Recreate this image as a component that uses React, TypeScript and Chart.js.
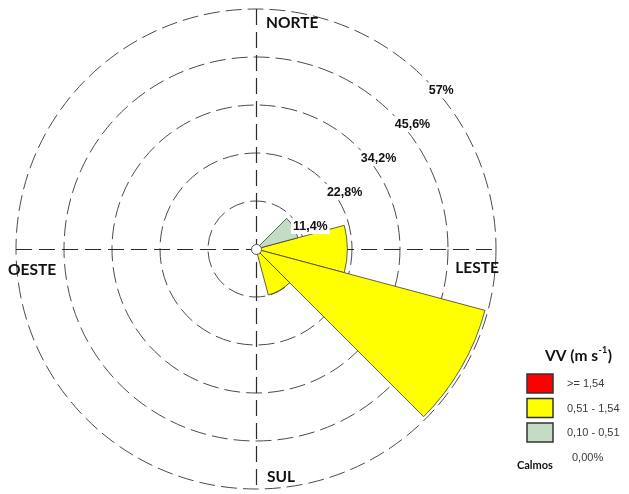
import React, { useEffect, useRef } from 'react';
import { Chart, registerables } from 'chart.js';

Chart.register(...registerables);

// Twelve 30° direction sectors, clockwise from north
const sectorLabels = ['N', 'NNE', 'ENE', 'E', 'ESE', 'SSE', 'S', 'SSW', 'WSW', 'W', 'WNW', 'NNW'];

// Frequency (%) per sector for each wind-speed class
const strongWind = [0, 0, 0, 0, 0, 0, 0, 0, 0, 0, 0, 0]; // >= 1,54
const moderateWind = [0, 0, 0, 21.7, 56.3, 11.3, 0, 0, 0, 0, 0, 0]; // 0,51 - 1,54
const lightWind = [0, 0, 10.3, 0, 0, 0, 0, 0, 0, 0, 0, 0]; // 0,10 - 0,51

const ringValues = [11.4, 22.8, 34.2, 45.6, 57];
const ringLabels = ['11,4%', '22,8%', '34,2%', '45,6%', '57%'];

const classLabels = ['>= 1,54', '0,51 - 1,54', '0,10 - 0,51'];
const classColors = ['#ff0000', '#ffff00', '#c3dcc3'];
const calmPercent = 0;

const directionNames = ['NORTE', 'LESTE', 'SUL', 'OESTE'];

const HEAD_FONT = '"Lato", "Open Sans", sans-serif';
const TEXT_FONT = '"Liberation Sans", Arial, sans-serif';

const rosePlugin = {
  id: 'roseDecor',
  beforeDatasetsDraw(chart: any) {
    const scale = chart.scales.r;
    const ctx: CanvasRenderingContext2D = chart.ctx;
    const R = scale.drawingArea;
    const cx = scale.xCenter;
    const cy = scale.yCenter;
    ctx.save();
    ctx.strokeStyle = '#2a2a2a';
    ctx.lineWidth = 1.2;
    ctx.setLineDash([16, 7]);
    ctx.beginPath();
    ctx.moveTo(cx + 0.5, cy - R);
    ctx.lineTo(cx + 0.5, cy + R);
    ctx.moveTo(cx - R, cy + 0.5);
    ctx.lineTo(cx + R, cy + 0.5);
    ctx.stroke();
    ctx.restore();
  },
  afterDatasetsDraw(chart: any) {
    const scale = chart.scales.r;
    const ctx: CanvasRenderingContext2D = chart.ctx;
    const R = scale.drawingArea;
    const cx = scale.xCenter;
    const cy = scale.yCenter;
    ctx.save();

    // centre marker
    ctx.beginPath();
    ctx.arc(cx + 0.5, cy + 0.5, 5, 0, Math.PI * 2);
    ctx.fillStyle = '#ffffff';
    ctx.fill();
    ctx.lineWidth = 1;
    ctx.strokeStyle = '#555555';
    ctx.stroke();

    // ring percentage labels, along the NE diagonal
    ctx.font = `bold 12.5px ${TEXT_FONT}`;
    ctx.textBaseline = 'middle';
    ctx.textAlign = 'left';
    ringValues.forEach((v, i) => {
      const d = scale.getDistanceFromCenterForValue(v);
      const x = cx + d * Math.SQRT1_2 + 3;
      const y = cy - d * Math.SQRT1_2 + 11;
      const w = ctx.measureText(ringLabels[i]).width;
      ctx.fillStyle = '#ffffff';
      ctx.fillRect(x - 2, y - 8, w + 4, 16);
      ctx.fillStyle = '#111111';
      ctx.fillText(ringLabels[i], x, y);
    });

    // compass names
    ctx.font = `bold 15.5px ${HEAD_FONT}`;
    ctx.fillStyle = '#111111';
    ctx.textAlign = 'left';
    ctx.fillText(directionNames[0], cx + 10, cy - R + 14);
    ctx.textAlign = 'right';
    ctx.fillText(directionNames[1], cx + R + 3, cy + 19);
    ctx.textAlign = 'left';
    ctx.fillText(directionNames[2], cx + 11, cy + R - 12);
    ctx.fillText(directionNames[3], cx - R - 8, cy + 21);

    // legend
    const lx = 527;
    ctx.font = `bold 15.5px ${HEAD_FONT}`;
    ctx.textAlign = 'left';
    const head = 'VV (m s';
    ctx.fillText(head, 545, 356);
    let hx = 545 + ctx.measureText(head).width;
    ctx.font = `bold 9px ${HEAD_FONT}`;
    ctx.fillText('-1', hx + 0.5, 350);
    hx += ctx.measureText('-1').width + 1;
    ctx.font = `bold 15.5px ${HEAD_FONT}`;
    ctx.fillText(')', hx, 356);

    classLabels.forEach((label, i) => {
      const by = 374 + i * 24.5;
      ctx.fillStyle = classColors[i];
      ctx.fillRect(lx, by, 26, 19);
      ctx.lineWidth = 1.5;
      ctx.strokeStyle = '#333333';
      ctx.strokeRect(lx, by, 26, 19);
      ctx.font = `11px ${TEXT_FONT}`;
      ctx.fillStyle = '#3a3a3a';
      ctx.fillText(label, 567, by + 10);
    });

    ctx.font = `bold 11px ${HEAD_FONT}`;
    ctx.fillStyle = '#111111';
    ctx.fillText('Calmos', 517, 465);
    ctx.font = `11px ${TEXT_FONT}`;
    ctx.fillStyle = '#3a3a3a';
    ctx.fillText(`${calmPercent.toFixed(2).replace('.', ',')}%`, 572, 458);

    ctx.restore();
  },
};

export default function App() {
  const canvasRef = useRef<HTMLCanvasElement | null>(null);

  useEffect(() => {
    if (!canvasRef.current) return;
    const arcStyle = (color: string) => ({
      backgroundColor: color,
      borderColor: '#3a3a3a',
      borderWidth: 0.8,
    });
    const chart = new Chart(canvasRef.current, {
      type: 'polarArea',
      data: {
        labels: sectorLabels,
        datasets: [
          { label: classLabels[2], data: lightWind, ...arcStyle(classColors[2]) },
          { label: classLabels[1], data: moderateWind, ...arcStyle(classColors[1]) },
          { label: classLabels[0], data: strongWind, ...arcStyle(classColors[0]) },
        ],
      },
      options: {
        responsive: false,
        animation: false,
        devicePixelRatio: 1,
        layout: { padding: { left: 16, top: 9, right: 133, bottom: 5 } },
        plugins: {
          legend: { display: false },
          tooltip: { enabled: false },
        },
        scales: {
          r: {
            min: 0,
            max: 57,
            startAngle: -15,
            afterBuildTicks: (s: any) => {
              s.ticks = [{ value: 0 }, ...ringValues.map((v) => ({ value: v }))];
            },
            ticks: { display: false },
            pointLabels: { display: false },
            angleLines: { display: false },
            grid: { circular: true, color: '#4a4a4a', lineWidth: 1 },
            border: { dash: [16, 6] },
          },
        },
      },
      plugins: [rosePlugin],
    } as any);
    return () => chart.destroy();
  }, []);

  return (
    <div style={{ position: 'fixed', left: 0, top: 0, width: 629, height: 494, background: '#ffffff' }}>
      <canvas ref={canvasRef} width={629} height={494} />
    </div>
  );
}
